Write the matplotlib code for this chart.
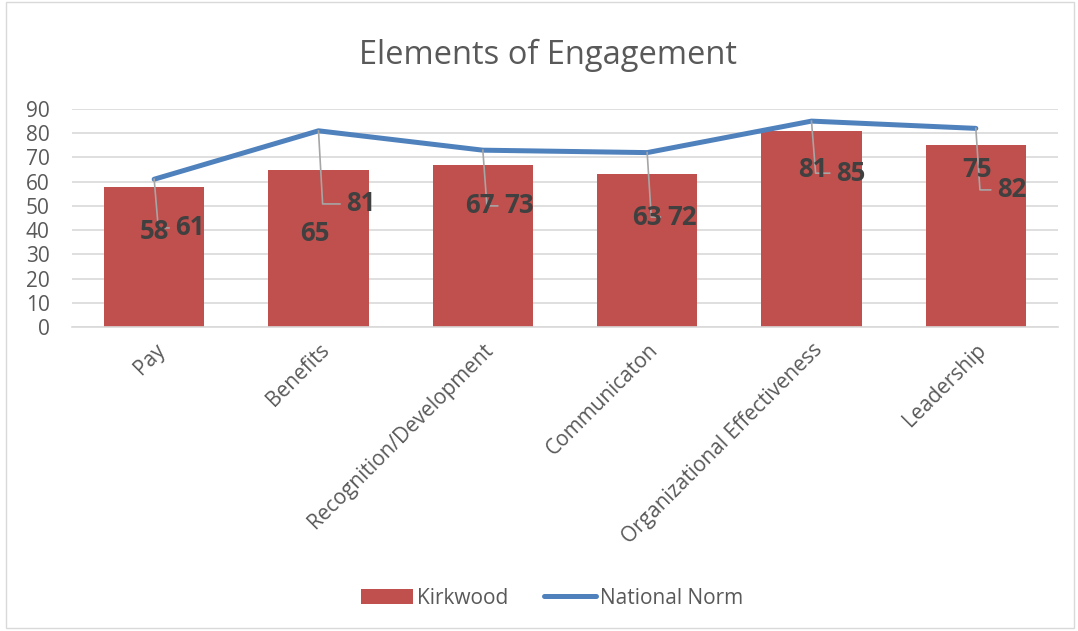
import numpy as np
import matplotlib
matplotlib.use("Agg")
import matplotlib.pyplot as plt
from matplotlib.patches import Rectangle

categories = ["Pay", "Benefits", "Recognition/Development", "Communicaton",
              "Organizational Effectiveness", "Leadership"]
kirkwood = [58, 65, 67, 63, 81, 75]
national_norm = [61, 81, 73, 72, 85, 82]

# label placement (Excel-style moved data labels)
bar_lab_dx = [0.0, -0.02, -0.02, 0.0, 0.01, 0.01]
bar_lab_y = [39.6, 38.4, 50.0, 45.4, 65.2, 65.2]
norm_lab_dx = [0.13, 0.17, 0.13, 0.12, 0.15, 0.13]
norm_lab_y = [40.9, 50.8, 50.0, 45.4, 63.5, 56.6]

plt.rcParams['font.family'] = ['Open Sans', 'DejaVu Sans']

bar_color = "#c0504d"
line_color = "#4f81bd"
text_color = "#595959"
label_color = "#404040"
grid_color = "#d9d9d9"

fig = plt.figure(figsize=(10.78, 6.31), dpi=100)
fig.patches.append(Rectangle((0.006, 0.004), 0.99, 0.993, transform=fig.transFigure,
                             fill=False, edgecolor="#d9d9d9", linewidth=1))
ax = fig.add_axes([72 / 1078, 1 - 327 / 631, 986 / 1078, 218 / 631])

x = np.arange(len(categories))
bars = ax.bar(x, kirkwood, width=0.61, color=bar_color, zorder=2, label="Kirkwood")
line, = ax.plot(x, national_norm, color=line_color, linewidth=3.6, solid_capstyle="round",
                zorder=3, label="National Norm")

for i in range(len(categories)):
    ax.text(i + bar_lab_dx[i], bar_lab_y[i], str(kirkwood[i]), ha="center", va="center",
            fontsize=18.5, fontweight="bold", color=label_color, zorder=5)
    ax.text(i + norm_lab_dx[i], norm_lab_y[i], str(national_norm[i]), ha="left", va="center",
            fontsize=18.5, fontweight="bold", color=label_color, zorder=5)
    ax.plot([i, i + 0.025, i + norm_lab_dx[i] - 0.04],
            [national_norm[i], norm_lab_y[i], norm_lab_y[i]],
            color="#a6a6a6", linewidth=1.2, zorder=4)

ax.set_xlim(-0.5, len(categories) - 0.5)
ax.set_ylim(0, 90)
ax.set_yticks(np.arange(0, 91, 10))
ax.yaxis.grid(True, color=grid_color, linewidth=1.2, zorder=0)
ax.set_axisbelow(True)
for s in ["top", "right", "left"]:
    ax.spines[s].set_visible(False)
ax.spines["bottom"].set_color(grid_color)
ax.spines["bottom"].set_linewidth(1.2)
ax.tick_params(axis="both", length=0, labelsize=15, colors=text_color)
ax.tick_params(axis="y", pad=16)
ax.tick_params(axis="x", pad=9)
ax.set_xticks(x)
ax.set_xticklabels(categories, rotation=45, ha="right", rotation_mode="anchor")

fig.text(548 / 1078, 1 - 55 / 631, "Elements of Engagement", ha="center", va="center",
         fontsize=23.5, color=text_color)

fig.legend([bars, line], ["Kirkwood", "National Norm"], loc="center",
           bbox_to_anchor=(552 / 1078, 1 - 598 / 631), ncol=2, frameon=False,
           fontsize=15, labelcolor=text_color, handlelength=2.5, columnspacing=1.7,
           handletextpad=0.2)

fig.savefig("out.png", dpi=100)
